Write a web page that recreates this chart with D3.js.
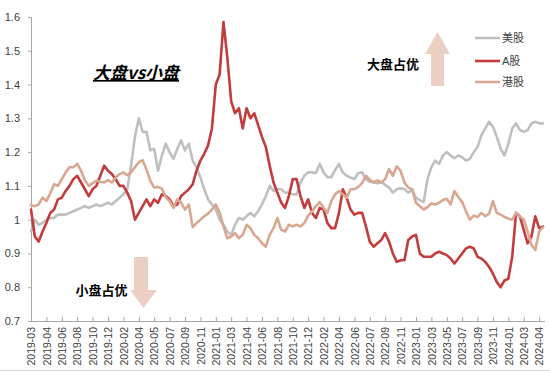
<!DOCTYPE html>
<html><head><meta charset="utf-8">
<script src="https://cdn.jsdelivr.net/npm/d3@7"></script>
<style>
html,body{margin:0;padding:0;background:#fff;}
svg{display:block;font-family:"Liberation Sans",Arial,"Noto Sans CJK SC",sans-serif;}
</style></head>
<body>
<svg id="chart" width="550" height="372"></svg>
<script>
const xLabels = ["2019-03","2019-04","2019-06","2019-08","2019-10","2019-12","2020-02","2020-04","2020-05","2020-07","2020-09","2020-11","2021-01","2021-03","2021-04","2021-06","2021-08","2021-10","2021-12","2022-02","2022-04","2022-06","2022-07","2022-09","2022-11","2023-01","2023-03","2023-05","2023-07","2023-09","2023-11","2024-01","2024-03","2024-04"];
const yTicks = [0.7,0.8,0.9,1.0,1.1,1.2,1.3,1.4,1.5,1.6];
const seriesNames = ["美股","A股","港股"];

const usStock = [0.965,1.0,0.985,0.99,1.0,1.005,1.005,1.015,1.015,1.015,1.02,1.025,1.03,1.035,1.04,1.035,1.04,1.045,1.04,1.045,
1.05,1.045,1.055,1.065,1.075,1.09,1.16,1.245,1.30,1.26,1.26,1.205,1.21,1.145,1.19,1.225,1.20,1.18,1.21,1.235,
1.205,1.225,1.175,1.155,1.125,1.09,1.06,1.045,1.03,1.0,0.985,0.965,0.955,0.985,1.005,1.0,1.01,1.02,1.01,1.025,
1.045,1.07,1.10,1.085,1.09,1.09,1.08,1.08,1.075,1.075,1.11,1.13,1.14,1.14,1.138,1.165,1.14,1.126,1.126,1.147,
1.165,1.14,1.13,1.125,1.12,1.138,1.14,1.12,1.112,1.11,1.108,1.111,1.103,1.095,1.08,1.09,1.093,1.09,1.08,1.088,
1.065,1.058,1.052,1.12,1.155,1.175,1.165,1.19,1.20,1.19,1.182,1.19,1.185,1.175,1.18,1.20,1.215,1.25,1.27,1.29,
1.275,1.245,1.21,1.19,1.225,1.27,1.285,1.265,1.26,1.265,1.285,1.29,1.285,1.285];

const aStock = [1.03,0.95,0.935,0.965,0.99,1.02,1.03,1.06,1.065,1.085,1.10,1.12,1.13,1.11,1.09,1.07,1.09,1.10,1.13,1.16,
1.145,1.135,1.12,1.10,1.10,1.08,1.055,1.00,1.02,1.04,1.06,1.04,1.06,1.05,1.075,1.07,1.06,1.04,1.045,1.07,
1.08,1.09,1.105,1.145,1.175,1.195,1.22,1.27,1.40,1.43,1.585,1.48,1.35,1.315,1.33,1.27,1.33,1.30,1.315,1.28,
1.245,1.215,1.16,1.11,1.08,1.05,1.035,1.07,1.12,1.12,1.07,1.035,1.06,1.02,1.005,1.035,1.03,0.99,0.975,0.975,
1.02,1.09,1.065,1.03,1.015,1.02,1.02,0.98,0.935,0.92,0.93,0.94,0.96,0.935,0.90,0.875,0.88,0.88,0.94,0.95,
0.955,0.90,0.89,0.89,0.89,0.90,0.905,0.90,0.895,0.885,0.87,0.885,0.90,0.915,0.92,0.915,0.89,0.885,0.875,0.86,
0.84,0.815,0.80,0.82,0.825,0.89,1.02,1.01,0.97,0.93,0.95,1.01,0.975,0.98];

const hkStock = [1.043,1.04,1.045,1.065,1.055,1.078,1.105,1.10,1.12,1.14,1.155,1.155,1.165,1.145,1.117,1.10,1.108,1.115,1.112,1.11,
1.117,1.11,1.125,1.135,1.14,1.132,1.14,1.155,1.17,1.176,1.148,1.115,1.095,1.097,1.092,1.067,1.055,1.035,1.06,1.05,
1.03,1.045,0.978,0.99,1.0,1.01,1.018,1.03,1.045,1.02,0.98,0.945,0.95,0.96,0.945,0.955,0.985,0.975,0.955,0.945,
0.93,0.92,0.955,0.975,1.005,0.97,0.965,0.985,0.98,0.985,0.98,0.99,1.012,1.025,1.04,1.052,1.035,1.02,1.055,1.075,
1.085,1.075,1.065,1.09,1.09,1.097,1.108,1.13,1.118,1.111,1.116,1.11,1.12,1.15,1.13,1.158,1.145,1.11,1.095,1.09,
1.05,1.04,1.03,1.037,1.048,1.045,1.05,1.058,1.062,1.045,1.085,1.067,1.052,1.025,1.0,1.012,1.008,1.02,1.01,1.018,
1.055,1.02,1.015,1.008,1.003,1.0,1.02,1.01,1.0,0.965,0.925,0.91,0.965,0.978];

const colors = ["#BFBFBF","#C33B3B","#D9A690"];
const arrowColor = "#ECCFC3";

const svg = d3.select("#chart");
const n = usStock.length;
const x = d3.scaleLinear().domain([0, n - 1]).range([31, 543]);
const y = d3.scaleLinear().domain([0.7, 1.6]).range([321, 17]);

// bottom frame line
svg.append("line").attr("x1",0).attr("x2",550).attr("y1",370.5).attr("y2",370.5)
  .attr("stroke","#D9D9D9").attr("stroke-width",1);

// y axis
const yAxis = svg.append("g").attr("transform","translate(31,0)")
  .call(d3.axisLeft(y).tickValues(yTicks).tickSize(3).tickPadding(8)
    .tickFormat(d => String(+d.toFixed(1))));
yAxis.select(".domain").attr("stroke","#A6A6A6");
yAxis.selectAll(".tick line").attr("stroke","#A6A6A6");
yAxis.selectAll("text").attr("font-size","11px").attr("fill","#404040")
  .attr("font-family","'Liberation Sans',Arial,sans-serif");

// x axis
const tickIdx = xLabels.map((_, i) => i * 4);
const xAxis = svg.append("g").attr("transform","translate(0,321)")
  .call(d3.axisBottom(x).tickValues(tickIdx).tickSize(-4).tickSizeOuter(0)
    .tickFormat((d, i) => xLabels[i]));
xAxis.select(".domain").attr("stroke","#A6A6A6").attr("d","M31.5,0.5H545");
xAxis.selectAll(".tick line").attr("stroke","#A6A6A6");
xAxis.selectAll("text")
  .attr("transform","rotate(-90)")
  .attr("x",-6).attr("y",0).attr("dy","0.36em")
  .attr("text-anchor","end")
  .attr("font-size","10.5px").attr("fill","#404040")
  .attr("font-family","'Liberation Sans',Arial,sans-serif");

// lines
const line = d3.line().x((d, i) => x(i)).y(d => y(d)).curve(d3.curveLinear);
[usStock, aStock, hkStock].forEach((s, k) => {
  svg.append("path").datum(s).attr("d", line)
    .attr("fill","none").attr("stroke",colors[k]).attr("stroke-width",2.6)
    .attr("stroke-linejoin","round").attr("stroke-linecap","round");
});

// legend
const legY = [38, 61, 82];
seriesNames.forEach((name, k) => {
  svg.append("line").attr("x1",475).attr("x2",500).attr("y1",legY[k]).attr("y2",legY[k])
    .attr("stroke",colors[k]).attr("stroke-width",2.6);
  svg.append("text").attr("x",502).attr("y",legY[k]).attr("dy","0.35em")
    .attr("font-size","11px").attr("fill","#404040")
    .attr("font-family","'Liberation Sans','Noto Sans CJK SC',sans-serif").text(name);
});

// arrows
svg.append("path")
  .attr("d","M437.5,32 L450,54 L444,54 L444,86 L431,86 L431,54 L425,54 Z")
  .attr("fill",arrowColor);
svg.append("path")
  .attr("d","M134,257 L148,257 L148,290 L157,290 L143.5,308 L130,290 L134,290 Z")
  .attr("fill",arrowColor);

// annotation texts
svg.append("text").attr("x",393).attr("y",64).attr("dy","0.35em").attr("text-anchor","middle")
  .attr("font-size","13px").attr("font-weight","bold").attr("fill","#000")
  .attr("font-family","'Noto Sans CJK SC',sans-serif").text("大盘占优");
svg.append("text").attr("x",101.5).attr("y",290).attr("dy","0.35em").attr("text-anchor","middle")
  .attr("font-size","13px").attr("font-weight","bold").attr("fill","#000")
  .attr("font-family","'Noto Sans CJK SC',sans-serif").text("小盘占优");

// title
svg.append("text").attr("x",136).attr("y",73).attr("dy","0.35em").attr("text-anchor","middle")
  .attr("font-size","17px").attr("font-weight","bold").attr("font-style","italic")
  .attr("text-decoration","underline").attr("fill","#000")
  .attr("font-family","'Noto Sans CJK SC','Liberation Sans',sans-serif").text("大盘vs小盘");
</script>
</body></html>
